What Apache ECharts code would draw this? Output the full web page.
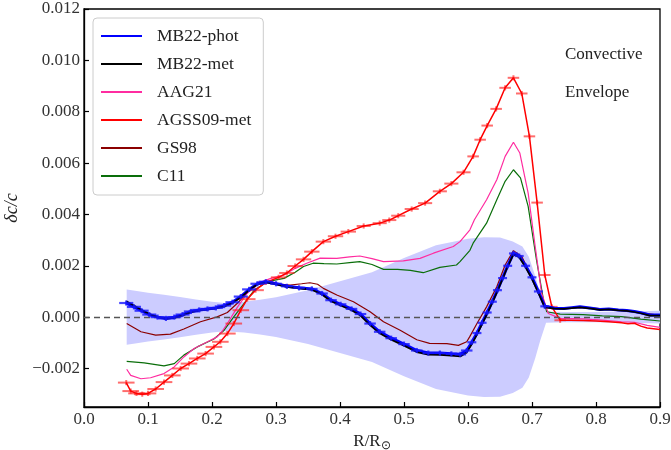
<!DOCTYPE html>
<html>
<head>
<meta charset="utf-8">
<script src="https://cdn.jsdelivr.net/npm/echarts@6/dist/echarts.min.js"></script>
<style>
  html, body { margin: 0; padding: 0; background: #fff; }
  #chart { width: 671px; height: 450px; }
</style>
</head>
<body>
<div id="chart"></div>
<script>
// ---- Sound-speed differences delta c / c versus fractional radius ----

// Axis ticks
const xTicks = [0.0, 0.1, 0.2, 0.3, 0.4, 0.5, 0.6, 0.7, 0.8, 0.9];
const yTicks = [-0.002, 0.000, 0.002, 0.004, 0.006, 0.008, 0.010, 0.012];

// Helioseismic uncertainty band (+/- sigma)
const bandX = [0.0667, 0.080, 0.100, 0.125, 0.150, 0.175, 0.200, 0.220, 0.250, 0.275, 0.300, 0.350,
  0.400, 0.450, 0.500, 0.550, 0.600, 0.625, 0.650, 0.670, 0.685, 0.695, 0.705, 0.713, 0.722,
  0.750, 0.800, 0.850, 0.900];
const bandSigma = [1.08e-3, 1.03e-3, 0.95e-3, 0.87e-3, 0.78e-3, 0.69e-3, 0.60e-3, 0.55e-3, 0.60e-3,
  0.68e-3, 0.77e-3, 1.05e-3, 1.40e-3, 1.75e-3, 2.30e-3, 2.80e-3, 3.05e-3, 3.11e-3, 3.10e-3,
  2.95e-3, 2.75e-3, 2.35e-3, 1.60e-3, 0.90e-3, 0.22e-3, 0.20e-3, 0.20e-3, 0.22e-3, 0.25e-3];

// MB22-phot (points with error bars, then envelope tail)
const photX = [0.066, 0.078, 0.090, 0.102, 0.115, 0.128, 0.141, 0.154, 0.167, 0.180, 0.193, 0.206,
  0.219, 0.232, 0.245, 0.258, 0.271, 0.284, 0.300, 0.317, 0.336, 0.356, 0.372, 0.386, 0.401,
  0.418, 0.432, 0.447, 0.462, 0.480, 0.500, 0.520, 0.538, 0.556, 0.574, 0.588, 0.598, 0.606,
  0.614, 0.622, 0.630, 0.638, 0.646, 0.654, 0.662, 0.671, 0.680, 0.690, 0.700, 0.710, 0.720];
const photY = [0.55e-3, 0.40e-3, 0.25e-3, 0.10e-3, 0.00e-3, -0.05e-3, 0.00e-3, 0.10e-3, 0.22e-3,
  0.28e-3, 0.32e-3, 0.36e-3, 0.45e-3, 0.58e-3, 0.80e-3, 1.08e-3, 1.30e-3, 1.38e-3, 1.30e-3,
  1.20e-3, 1.14e-3, 1.10e-3, 0.92e-3, 0.66e-3, 0.50e-3, 0.32e-3, 0.12e-3, -0.25e-3, -0.57e-3,
  -0.82e-3, -1.05e-3, -1.30e-3, -1.40e-3, -1.40e-3, -1.43e-3, -1.45e-3, -1.30e-3, -0.98e-3,
  -0.62e-3, -0.22e-3, 0.18e-3, 0.60e-3, 1.05e-3, 1.52e-3, 2.00e-3, 2.48e-3, 2.38e-3, 2.00e-3,
  1.55e-3, 1.00e-3, 0.42e-3];
const photXerr = [0.011, 0.011, 0.011, 0.011, 0.011, 0.011, 0.011, 0.011, 0.011, 0.011, 0.011, 0.011,
  0.011, 0.011, 0.011, 0.011, 0.011, 0.011, 0.009, 0.009, 0.009, 0.009, 0.009, 0.009, 0.009,
  0.009, 0.009, 0.009, 0.009, 0.009, 0.009, 0.009, 0.009, 0.009, 0.009, 0.009, 0.009, 0.007,
  0.007, 0.007, 0.007, 0.007, 0.007, 0.007, 0.007, 0.007, 0.007, 0.007, 0.007,
  0.007, 0.007];
const photYerr = 1.0e-4;
const photTailX = [0.735, 0.750, 0.762, 0.775, 0.790, 0.806, 0.820, 0.835, 0.848, 0.860, 0.870, 0.884, 0.900];
const photTailY = [0.35e-3, 0.34e-3, 0.37e-3, 0.40e-3, 0.36e-3, 0.30e-3, 0.32e-3, 0.28e-3, 0.26e-3,
  0.22e-3, 0.17e-3, 0.08e-3, 0.08e-3];

// MB22-met
const metX = [0.066, 0.078, 0.090, 0.102, 0.115, 0.128, 0.141, 0.154, 0.167, 0.180, 0.193, 0.206,
  0.219, 0.232, 0.245, 0.258, 0.271, 0.284, 0.300, 0.317, 0.336, 0.356, 0.372, 0.386, 0.401,
  0.418, 0.432, 0.447, 0.462, 0.480, 0.500, 0.520, 0.538, 0.556, 0.574, 0.588, 0.598, 0.606,
  0.614, 0.622, 0.630, 0.638, 0.646, 0.654, 0.662, 0.671, 0.680, 0.690, 0.700, 0.710, 0.720,
  0.735, 0.750, 0.762, 0.775, 0.790, 0.806, 0.820, 0.835, 0.848, 0.860, 0.870, 0.884, 0.900];
const metY = [0.62e-3, 0.45e-3, 0.28e-3, 0.12e-3, 0.00e-3, -0.06e-3, -0.03e-3, 0.07e-3, 0.19e-3,
  0.26e-3, 0.30e-3, 0.34e-3, 0.42e-3, 0.55e-3, 0.77e-3, 1.05e-3, 1.28e-3, 1.36e-3, 1.28e-3,
  1.18e-3, 1.12e-3, 1.07e-3, 0.88e-3, 0.62e-3, 0.45e-3, 0.27e-3, 0.06e-3, -0.31e-3, -0.63e-3,
  -0.88e-3, -1.11e-3, -1.36e-3, -1.46e-3, -1.47e-3, -1.50e-3, -1.53e-3, -1.38e-3, -1.05e-3,
  -0.68e-3, -0.27e-3, 0.14e-3, 0.56e-3, 1.01e-3, 1.49e-3, 1.97e-3, 2.44e-3, 2.33e-3, 1.94e-3,
  1.48e-3, 0.94e-3, 0.38e-3,
  0.33e-3, 0.32e-3, 0.35e-3, 0.38e-3, 0.34e-3, 0.28e-3, 0.30e-3, 0.26e-3, 0.24e-3, 0.20e-3,
  0.15e-3, 0.06e-3, 0.06e-3];

// AAG21
const aagX = [0.0667, 0.073, 0.089, 0.104, 0.125, 0.141, 0.156, 0.172, 0.193, 0.208, 0.216, 0.224,
  0.240, 0.255, 0.271, 0.292, 0.3125, 0.330, 0.348, 0.369, 0.395, 0.415, 0.431, 0.450, 0.468,
  0.499, 0.525, 0.546, 0.577, 0.5875, 0.603, 0.610, 0.629, 0.645, 0.658, 0.671, 0.681, 0.694,
  0.705, 0.715, 0.7255, 0.744, 0.780, 0.810, 0.840, 0.860, 0.880, 0.900];
const aagY = [-2.03e-3, -2.27e-3, -2.40e-3, -2.36e-3, -2.20e-3, -1.94e-3, -1.55e-3, -1.22e-3,
  -0.96e-3, -0.77e-3, -0.55e-3, -0.25e-3, 0.40e-3, 0.93e-3, 1.32e-3, 1.51e-3, 1.64e-3, 1.90e-3,
  2.10e-3, 2.30e-3, 2.29e-3, 2.35e-3, 2.38e-3, 2.28e-3, 2.16e-3, 2.19e-3, 2.29e-3, 2.49e-3,
  2.75e-3, 2.94e-3, 3.40e-3, 3.79e-3, 4.57e-3, 5.35e-3, 6.26e-3, 6.81e-3, 6.39e-3, 4.83e-3,
  2.75e-3, 0.93e-3, 0.14e-3, -0.05e-3, -0.07e-3, -0.12e-3, -0.18e-3, -0.20e-3, -0.32e-3, -0.40e-3];

// AGSS09-met (points with error bars, then envelope tail)
const agssX = [0.066, 0.073, 0.082, 0.091, 0.100, 0.112, 0.125, 0.138, 0.151, 0.164, 0.177, 0.190,
  0.203, 0.213, 0.224, 0.234, 0.245, 0.255, 0.268, 0.284, 0.304, 0.317, 0.330, 0.343, 0.356,
  0.374, 0.393, 0.413, 0.437, 0.462, 0.477, 0.491, 0.512, 0.533, 0.556, 0.574, 0.593, 0.608,
  0.619, 0.630, 0.644, 0.658, 0.671, 0.684, 0.696, 0.708, 0.720, 0.731, 0.744];
const agssY = [-2.55e-3, -2.88e-3, -2.97e-3, -3.00e-3, -2.97e-3, -2.80e-3, -2.53e-3, -2.27e-3,
  -2.00e-3, -1.81e-3, -1.61e-3, -1.42e-3, -1.16e-3, -0.96e-3, -0.64e-3, -0.25e-3, 0.27e-3,
  0.70e-3, 1.05e-3, 1.35e-3, 1.55e-3, 1.72e-3, 1.99e-3, 2.25e-3, 2.55e-3, 2.94e-3, 3.15e-3,
  3.33e-3, 3.55e-3, 3.66e-3, 3.78e-3, 3.95e-3, 4.21e-3, 4.44e-3, 4.90e-3, 5.20e-3, 5.64e-3,
  6.26e-3, 6.91e-3, 7.46e-3, 8.11e-3, 8.93e-3, 9.32e-3, 8.71e-3, 7.04e-3, 4.46e-3, 1.64e-3,
  0.40e-3, -0.12e-3];
const agssXerr = [0.013, 0.013, 0.013, 0.013, 0.013, 0.013, 0.013, 0.013, 0.013, 0.013, 0.013, 0.013,
  0.013, 0.013, 0.013, 0.013, 0.013, 0.013, 0.013, 0.013, 0.012, 0.012, 0.012, 0.012, 0.012,
  0.012, 0.012, 0.012, 0.011, 0.011, 0.011, 0.011, 0.011, 0.011, 0.011, 0.011, 0.011, 0.009,
  0.009, 0.009, 0.009, 0.009, 0.009, 0.009, 0.009, 0.009, 0.009, 0.009, 0.009];
const agssYerr = 1.0e-4;
const agssTailX = [0.760, 0.780, 0.800, 0.820, 0.840, 0.850, 0.860, 0.870, 0.880, 0.900];
const agssTailY = [-0.12e-3, -0.13e-3, -0.15e-3, -0.18e-3, -0.22e-3, -0.26e-3, -0.24e-3, -0.35e-3,
  -0.42e-3, -0.48e-3];

// GS98
const gsX = [0.0667, 0.089, 0.112, 0.135, 0.156, 0.182, 0.208, 0.224, 0.240, 0.255, 0.271, 0.285,
  0.300, 0.322, 0.340, 0.353, 0.365, 0.374, 0.395, 0.421, 0.447, 0.468, 0.494, 0.520, 0.540,
  0.567, 0.585, 0.598, 0.603, 0.614, 0.629, 0.645, 0.658, 0.671, 0.684, 0.702, 0.720, 0.740,
  0.780, 0.820, 0.860, 0.900];
const gsY = [-0.25e-3, -0.57e-3, -0.70e-3, -0.66e-3, -0.46e-3, -0.18e-3, 0.01e-3, 0.18e-3, 0.55e-3,
  0.95e-3, 1.28e-3, 1.38e-3, 1.30e-3, 1.25e-3, 1.30e-3, 1.34e-3, 1.28e-3, 1.12e-3, 0.86e-3,
  0.60e-3, 0.21e-3, -0.18e-3, -0.51e-3, -0.88e-3, -1.02e-3, -1.03e-3, -1.10e-3, -0.96e-3,
  -0.75e-3, -0.25e-3, 0.40e-3, 1.18e-3, 2.03e-3, 2.59e-3, 2.36e-3, 1.45e-3, 0.42e-3, 0.33e-3,
  0.38e-3, 0.30e-3, 0.21e-3, 0.07e-3];

// C11
const c11X = [0.0667, 0.094, 0.125, 0.141, 0.156, 0.177, 0.203, 0.219, 0.234, 0.250, 0.266, 0.286,
  0.3125, 0.330, 0.343, 0.358, 0.375, 0.395, 0.415, 0.431, 0.450, 0.468, 0.490, 0.510, 0.530,
  0.556, 0.582, 0.5875, 0.603, 0.608, 0.629, 0.645, 0.658, 0.671, 0.682, 0.694, 0.707, 0.718,
  0.723, 0.744, 0.780, 0.810, 0.840, 0.870, 0.900];
const c11Y = [-1.72e-3, -1.78e-3, -1.90e-3, -1.81e-3, -1.48e-3, -1.16e-3, -0.85e-3, -0.51e-3,
  0.01e-3, 0.53e-3, 1.05e-3, 1.38e-3, 1.51e-3, 1.75e-3, 1.97e-3, 2.10e-3, 2.08e-3, 2.07e-3,
  2.12e-3, 2.16e-3, 2.05e-3, 1.86e-3, 1.86e-3, 1.82e-3, 1.73e-3, 1.94e-3, 2.03e-3, 2.16e-3,
  2.60e-3, 2.88e-3, 3.66e-3, 4.57e-3, 5.29e-3, 5.74e-3, 5.42e-3, 4.31e-3, 2.23e-3, 0.66e-3,
  0.21e-3, 0.12e-3, 0.10e-3, 0.05e-3, 0.02e-3, -0.08e-3, -0.15e-3];

// ---- helpers ----
const FONT = '"Liberation Serif", "Times New Roman", serif';
const zip = (xs, ys) => xs.map((x, i) => [x, ys[i]]);
const fmt = (v, d) => {
  const s = Math.abs(v) < 1e-12 ? (0).toFixed(d) : v.toFixed(d);
  return s.replace('-', '\u2212');
};

function lineSeries(name, data, color, width, z) {
  return {
    name, type: 'line', data, symbol: 'none', showSymbol: false, z,
    lineStyle: { color, width }, itemStyle: { color },
    emphasis: { disabled: true }, silent: true
  };
}

function errorBarSeries(name, xs, ys, xerr, yerr, color, width, z) {
  return {
    name, type: 'custom', z, silent: true,
    data: xs.map((x, i) => [x, ys[i], xerr[i], yerr]),
    encode: { x: 0, y: 1 },
    renderItem(params, api) {
      const x = api.value(0), y = api.value(1), ex = api.value(2), ey = api.value(3);
      const l = api.coord([x - ex, y]), r = api.coord([x + ex, y]);
      const t = api.coord([x, y + ey]), b = api.coord([x, y - ey]);
      const style = { stroke: color, lineWidth: width };
      return {
        type: 'group',
        children: [
          { type: 'line', shape: { x1: l[0], y1: l[1], x2: r[0], y2: r[1] }, style },
          { type: 'line', shape: { x1: t[0], y1: t[1], x2: b[0], y2: b[1] }, style }
        ]
      };
    }
  };
}

// Shaded +/- sigma band, drawn as one polygon through the axis scales
const bandSeries = {
  name: 'sigma band', type: 'custom', z: 1, silent: true,
  data: bandX.map((x, i) => [x, -bandSigma[i], bandSigma[i]]),
  encode: { x: 0, y: [1, 2] },
  renderItem(params, api) {
    if (params.dataIndex !== 0) return null;
    const upper = bandX.map((x, i) => api.coord([x, bandSigma[i]]));
    const lower = bandX.map((x, i) => api.coord([x, -bandSigma[i]])).reverse();
    return {
      type: 'polygon',
      shape: { points: upper.concat(lower) },
      style: { fill: '#ccccff', stroke: null }
    };
  }
};

const chart = echarts.init(document.getElementById('chart'), null, { renderer: 'canvas' });

const option = {
  animation: false,
  backgroundColor: '#fff',
  grid: {
    left: 84, right: 11, top: 9, bottom: 43,
    containLabel: false, outerBoundsMode: 'none',
    show: true, borderColor: '#000', borderWidth: 1.3, backgroundColor: 'transparent'
  },
  xAxis: {
    type: 'value', min: 0, max: 0.9, interval: 0.1,
    name: '{a|R/R}{b|\u2299}', nameLocation: 'middle', nameGap: 21,
    nameTextStyle: {
      fontFamily: FONT, fontSize: 17, color: '#222',
      rich: {
        a: { fontFamily: FONT, fontSize: 17, color: '#222' },
        b: { fontFamily: FONT, fontSize: 12, color: '#222', padding: [8, 0, 0, 0] }
      }
    },
    axisLine: { show: true, onZero: false, lineStyle: { color: '#000', width: 1.3 } },
    axisTick: { show: true, inside: true, length: 5, lineStyle: { color: '#000', width: 1.2 } },
    axisLabel: {
      fontFamily: FONT, fontSize: 17, color: '#333', margin: 4,
      formatter: v => fmt(v, 1),
      customValues: xTicks
    },
    splitLine: { show: false }
  },
  yAxis: {
    type: 'value', min: -0.0035, max: 0.012,
    name: '\u03b4c/c', nameLocation: 'middle', nameGap: 54, nameRotate: 90,
    nameTextStyle: { fontFamily: FONT, fontSize: 18, fontStyle: 'italic', color: '#222' },
    axisLine: { show: true, onZero: false, lineStyle: { color: '#000', width: 1.3 } },
    axisTick: { show: true, inside: true, length: 5, lineStyle: { color: '#000', width: 1.2 }, customValues: yTicks },
    axisLabel: {
      fontFamily: FONT, fontSize: 17, color: '#333', margin: 4,
      formatter: v => fmt(v, 3),
      customValues: yTicks
    },
    splitLine: { show: false }
  },
  legend: {
    data: ['MB22-phot', 'MB22-met', 'AAG21', 'AGSS09-met', 'GS98', 'C11'],
    orient: 'vertical', left: 93, top: 18,
    itemWidth: 41, itemHeight: 14, itemGap: 10,
    padding: [9, 12, 10, 7],
    backgroundColor: 'rgba(255,255,255,0.85)',
    borderColor: '#cccccc', borderWidth: 1, borderRadius: 4,
    itemStyle: { opacity: 0 },
    textStyle: { fontFamily: FONT, fontSize: 17.5, color: '#222', lineHeight: 17, padding: [0, 0, 0, 10] },
    selectedMode: false
  },
  graphic: [
    { type: 'text', left: 565, top: 46, style: { text: 'Convective', font: '17px ' + FONT, fill: '#222' } },
    { type: 'text', left: 565, top: 84, style: { text: 'Envelope', font: '17px ' + FONT, fill: '#222' } }
  ],
  series: [
    bandSeries,
    Object.assign(lineSeries('GS98', zip(gsX, gsY), '#8b0000', 1.2, 3), {
      markLine: {
        silent: true, symbol: ['none', 'none'], label: { show: false },
        lineStyle: { color: '#555', type: [6, 4], width: 1.3 },
        data: [{ yAxis: 0 }]
      }
    }),
    lineSeries('C11', zip(c11X, c11Y), '#0a6e0a', 1.2, 3),
    lineSeries('AAG21', zip(aagX, aagY), '#ff2ca0', 1.2, 3),
    lineSeries('AGSS09-met', zip(agssX, agssY).concat(zip(agssTailX, agssTailY)), '#ff0000', 1.5, 4),
    errorBarSeries('AGSS09-met errors', agssX, agssY, agssXerr, agssYerr, 'rgba(255,30,30,0.65)', 2, 4),
    lineSeries('MB22-phot', zip(photX, photY).concat(zip(photTailX, photTailY)), '#0000ff', 3, 5),
    lineSeries('MB22-met', zip(metX, metY), '#000000', 1.7, 6),
    errorBarSeries('MB22-phot errors', photX, photY, photXerr, photYerr, 'rgba(20,20,255,0.8)', 2.2, 7)
  ]
};

chart.setOption(option);
</script>
</body>
</html>
